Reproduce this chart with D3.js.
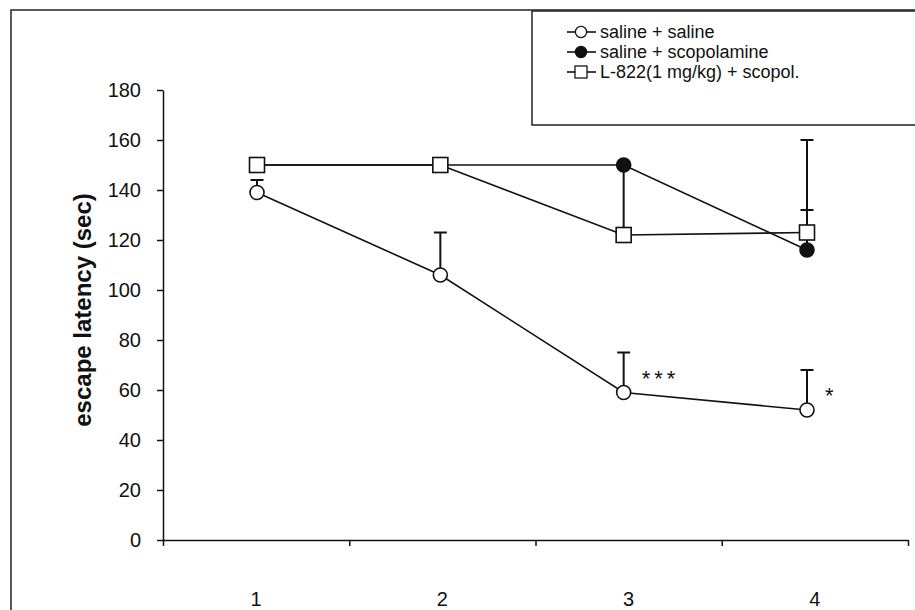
<!DOCTYPE html>
<html>
<head>
<meta charset="utf-8">
<script src="https://cdn.jsdelivr.net/npm/d3@7"></script>
<style>
  body { margin: 0; background: #fff; }
  svg { display: block; font-family: "Liberation Sans", Arial, sans-serif; }
  .axis text { font-size: 20px; fill: #111; }
  .axis path, .axis line { stroke: #111; stroke-width: 1.5; }
</style>
</head>
<body>
<div id="chart"></div>
<script>
// escape latency per training day, three treatment groups (mean + upward SEM)
const days = [1, 2, 3, 4];
const yTicks = [0, 20, 40, 60, 80, 100, 120, 140, 160, 180];

const salineSaline = [139, 106, 59, 52];
const salineSalineErr = [5, 17, 16, 16];

const salineScop = [150, 150, 150, 116];
const salineScopErr = [0, 0, 0, 44];

const l822Scop = [150, 150, 122, 123];
const l822ScopErr = [0, 0, 28, 9];

const seriesNames = ["saline + saline", "saline + scopolamine", "L-822(1 mg/kg) + scopol."];
const significance = [
  { day: 3, value: 59, label: "***" },
  { day: 4, value: 52, label: "*" },
];

const W = 915, H = 610;
const plot = { left: 163, right: 908, top: 90, bottom: 540 };

const svg = d3.select("#chart").append("svg")
  .attr("width", W).attr("height", H);

// scanned figure frame
svg.append("path")
  .attr("d", `M11,${H + 2} V10 H${W + 2}`)
  .attr("fill", "none").attr("stroke", "#222").attr("stroke-width", 1.5);

const y = d3.scaleLinear().domain([0, 180]).range([plot.bottom, plot.top]);
// axis ticks sit between days; points are drawn on a slightly tighter scale
const xAxisScale = d3.scaleLinear().domain([0.5, 4.5]).range([plot.left, plot.right]);
const x = d3.scaleLinear().domain([1, 4]).range([257, 807]);

// axes
svg.append("g").attr("class", "axis")
  .attr("transform", `translate(${plot.left},0)`)
  .call(d3.axisLeft(y).tickValues(yTicks).tickSize(6).tickSizeOuter(0).tickPadding(16));

svg.append("g").attr("class", "axis")
  .attr("transform", `translate(0,${plot.bottom})`)
  .call(d3.axisBottom(xAxisScale).tickValues([0.5, 1.5, 2.5, 3.5, 4.5]).tickSize(6).tickSizeOuter(0).tickFormat(""));

svg.append("g").attr("class", "axis")
  .selectAll("text").data(days).join("text")
  .attr("x", (d) => xAxisScale(d))
  .attr("y", 606)
  .attr("text-anchor", "middle")
  .text((d) => d);

svg.append("text")
  .attr("transform", `translate(91,${(plot.top + plot.bottom) / 2 - 5}) rotate(-90)`)
  .attr("text-anchor", "middle")
  .attr("font-size", 24)
  .attr("font-weight", "bold")
  .attr("fill", "#111")
  .text("escape latency (sec)");

const series = [
  { values: salineSaline, err: salineSalineErr, marker: "openCircle" },
  { values: salineScop, err: salineScopErr, marker: "filledCircle" },
  { values: l822Scop, err: l822ScopErr, marker: "square" },
];

const line = d3.line().x((d, i) => x(days[i])).y((d) => y(d));

// lines first so markers sit on top
series.forEach((s) => {
  svg.append("path")
    .datum(s.values)
    .attr("fill", "none")
    .attr("stroke", "#111")
    .attr("stroke-width", 1.6)
    .attr("d", line);
});

// upward error bars
series.forEach((s) => {
  const bars = days
    .map((d, i) => ({ day: d, v: s.values[i], e: s.err[i] }))
    .filter((d) => d.e > 0);
  const g = svg.append("g").attr("stroke", "#111").attr("stroke-width", 2);
  g.selectAll("line.stem").data(bars).join("line")
    .attr("x1", (d) => x(d.day)).attr("x2", (d) => x(d.day))
    .attr("y1", (d) => y(d.v)).attr("y2", (d) => y(d.v + d.e));
  g.selectAll("line.cap").data(bars).join("line")
    .attr("x1", (d) => x(d.day) - 6.5).attr("x2", (d) => x(d.day) + 6.5)
    .attr("y1", (d) => y(d.v + d.e)).attr("y2", (d) => y(d.v + d.e));
});

function drawMarker(g, type, cx, cy) {
  if (type === "square") {
    g.append("rect")
      .attr("x", cx - 7.5).attr("y", cy - 7.5)
      .attr("width", 15).attr("height", 15)
      .attr("fill", "#fff").attr("stroke", "#111").attr("stroke-width", 1.6);
  } else {
    g.append("circle")
      .attr("cx", cx).attr("cy", cy).attr("r", 7)
      .attr("fill", type === "filledCircle" ? "#111" : "#fff")
      .attr("stroke", "#111").attr("stroke-width", 1.6);
  }
}

// markers: open circles, filled circles, then squares on top
series.forEach((s) => {
  const g = svg.append("g");
  s.values.forEach((v, i) => drawMarker(g, s.marker, x(days[i]), y(v)));
});

// significance stars
svg.selectAll("text.sig").data(significance).join("text")
  .attr("class", "sig")
  .attr("x", (d) => x(d.day) + 18)
  .attr("y", (d) => y(d.value) - 7)
  .attr("font-size", 22)
  .attr("letter-spacing", 4)
  .attr("fill", "#111")
  .text((d) => d.label);

// legend
const legend = svg.append("g");
legend.append("path")
  .attr("d", `M${W + 2},125 H532 V11 H${W + 2}`)
  .attr("fill", "none").attr("stroke", "#222").attr("stroke-width", 1.5);

const legendRows = [
  { name: seriesNames[0], marker: "openCircle" },
  { name: seriesNames[1], marker: "filledCircle" },
  { name: seriesNames[2], marker: "square" },
];
legendRows.forEach((r, i) => {
  const cy = 32 + i * 20;
  legend.append("line")
    .attr("x1", 567).attr("x2", 596).attr("y1", cy).attr("y2", cy)
    .attr("stroke", "#111").attr("stroke-width", 1.6);
  const m = legend.append("g").attr("transform", `translate(581,${cy}) scale(0.8)`);
  drawMarker(m, r.marker, 0, 0);
  legend.append("text")
    .attr("x", 600).attr("y", cy + 6)
    .attr("font-size", 18)
    .attr("fill", "#111")
    .text(r.name);
});
</script>
</body>
</html>
